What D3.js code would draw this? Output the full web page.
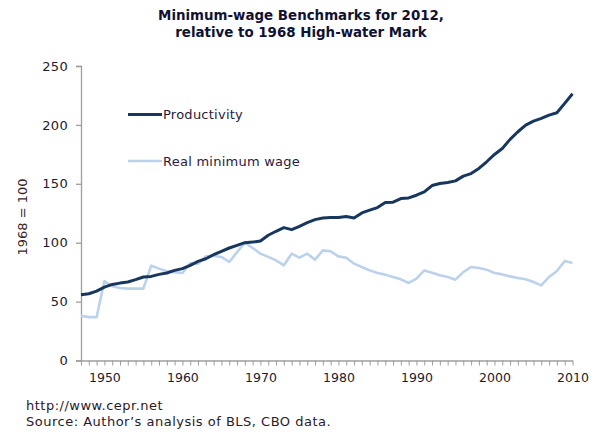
<!DOCTYPE html>
<html><head><meta charset="utf-8">
<script src="https://cdn.jsdelivr.net/npm/d3@7"></script>
<style>
body{margin:0;background:#fff;}
svg{display:block;font-family:"DejaVu Sans",Verdana,sans-serif;}
</style></head>
<body>
<svg id="chart" width="600" height="438"></svg>
<script>
const years = [1947,1948,1949,1950,1951,1952,1953,1954,1955,1956,1957,1958,1959,1960,1961,1962,1963,1964,1965,1966,1967,1968,1969,1970,1971,1972,1973,1974,1975,1976,1977,1978,1979,1980,1981,1982,1983,1984,1985,1986,1987,1988,1989,1990,1991,1992,1993,1994,1995,1996,1997,1998,1999,2000,2001,2002,2003,2004,2005,2006,2007,2008,2009,2010];
const productivity = [55.8,56.7,58.9,62.3,64.6,65.7,66.6,68.6,70.9,71.4,73.1,74.3,76.5,78,80.8,84.2,86.4,89.8,92.7,95.5,97.8,100,100.5,101.5,106.3,109.7,112.8,111.1,113.9,117,119.6,121,121.3,121.3,122.2,121,125.3,127.6,129.8,134.1,134.4,137.5,138,140.3,143.1,148.5,150.2,151.1,152.5,156.5,158.7,163,168.7,174.9,180,187.7,194.2,199.8,203.2,205.5,208.3,210.3,218.3,226.5];
const minimumWage = [38,36.8,36.8,67.5,63,61.5,61,61,61,80.5,78,75.7,75,74.3,82.8,82,88.4,89,87.9,83.6,92,100,95.5,90.7,88,85,80.8,90.7,87.3,90.7,85.6,93.5,92.7,88.4,87.3,82.2,79.4,76.5,74.3,72.9,70.9,68.9,65.8,69.5,76.5,74.5,72.3,70.9,68.6,75,79.4,78.5,77.1,74.3,73.1,71.4,70,68.9,66.6,63.8,70.9,76,84.4,82.8];
const seriesNames = ["Productivity","Real minimum wage"];
const xTickLabels = [1950,1960,1970,1980,1990,2000,2010];
const yTickLabels = [0,50,100,150,200,250];
const titleLines = ["Minimum-wage Benchmarks for 2012,","relative to 1968 High-water Mark"];
const yTitle = "1968 = 100";
const footer = ["http://www.cepr.net","Source: Author\u2019s analysis of BLS, CBO data."];

const svg = d3.select("#chart");
const x = d3.scaleLinear().domain([1947,2010]).range([81,572.5]);
const y = d3.scaleLinear().domain([0,250]).range([360.5,66]);
const textColor = "#1b1b2e";
const axisColor = "#9e9e9e";
const colors = ["#17375e","#bcd2ec"];

// title
svg.append("g").selectAll("text").data(titleLines).join("text")
  .attr("x",301).attr("y",(d,i)=>20+i*17)
  .attr("text-anchor","middle").attr("font-weight","bold").attr("font-size","13.4px")
  .attr("fill","#111133").text(d=>d);

// y axis
const yAxis = svg.append("g").attr("transform","translate(81,0)")
  .call(d3.axisLeft(y).tickValues(yTickLabels).tickSize(5).tickPadding(8));
yAxis.select(".domain").attr("stroke",axisColor).attr("stroke-width",1.3);
yAxis.selectAll(".tick line").attr("stroke",axisColor).attr("stroke-width",1.3);
yAxis.selectAll(".tick text").attr("font-size","13px").attr("fill",textColor)
  .attr("letter-spacing","0.3px")
  .attr("font-family","DejaVu Sans, Verdana, sans-serif");

// x axis with yearly ticks
const xAxis = svg.append("g").attr("transform","translate(0,360.5)")
  .call(d3.axisBottom(x).tickValues(years).tickSize(5).tickSizeOuter(0)
    .tickFormat(d=> xTickLabels.includes(d) ? String(d) : "").tickPadding(8));
xAxis.select(".domain").attr("stroke",axisColor).attr("stroke-width",1.3);
xAxis.selectAll(".tick line").attr("stroke",axisColor).attr("stroke-width",1);
xAxis.selectAll(".tick text").attr("font-size","12.5px").attr("fill",textColor)
  .attr("font-family","DejaVu Sans, Verdana, sans-serif");

// y title
svg.append("text").attr("transform","translate(27,217) rotate(-90)")
  .attr("text-anchor","middle").attr("font-size","13px").attr("fill","#3a1f2a").text(yTitle);

// lines
const series = [productivity, minimumWage];
const line = d3.line().x((d,i)=>x(years[i])).y(d=>y(d));
svg.append("g").selectAll("path").data([series[1],series[0]]).join("path")
  .attr("d",line).attr("fill","none")
  .attr("stroke",(d,i)=> i===0?colors[1]:colors[0])
  .attr("stroke-width",(d,i)=> i===0?2.6:3)
  .attr("stroke-linejoin","round");

// legend
const lg = svg.append("g");
[114.5,161].forEach((ly,i)=>{
  lg.append("line").attr("x1",128).attr("x2",162).attr("y1",ly).attr("y2",ly)
    .attr("stroke",colors[i]).attr("stroke-width",i===0?3:2.6);
  lg.append("text").attr("x",163).attr("y",ly+4.5).attr("font-size","13px")
    .attr("letter-spacing","0.25px")
    .attr("fill","#2a1a3a").text(seriesNames[i]);
});

// footer
svg.append("g").selectAll("text").data(footer).join("text")
  .attr("x",26).attr("y",(d,i)=>410+i*15.7).attr("font-size","13px")
  .attr("letter-spacing","0.5px")
  .attr("fill","#2a1a2a").text(d=>d);
</script>
</body></html>
